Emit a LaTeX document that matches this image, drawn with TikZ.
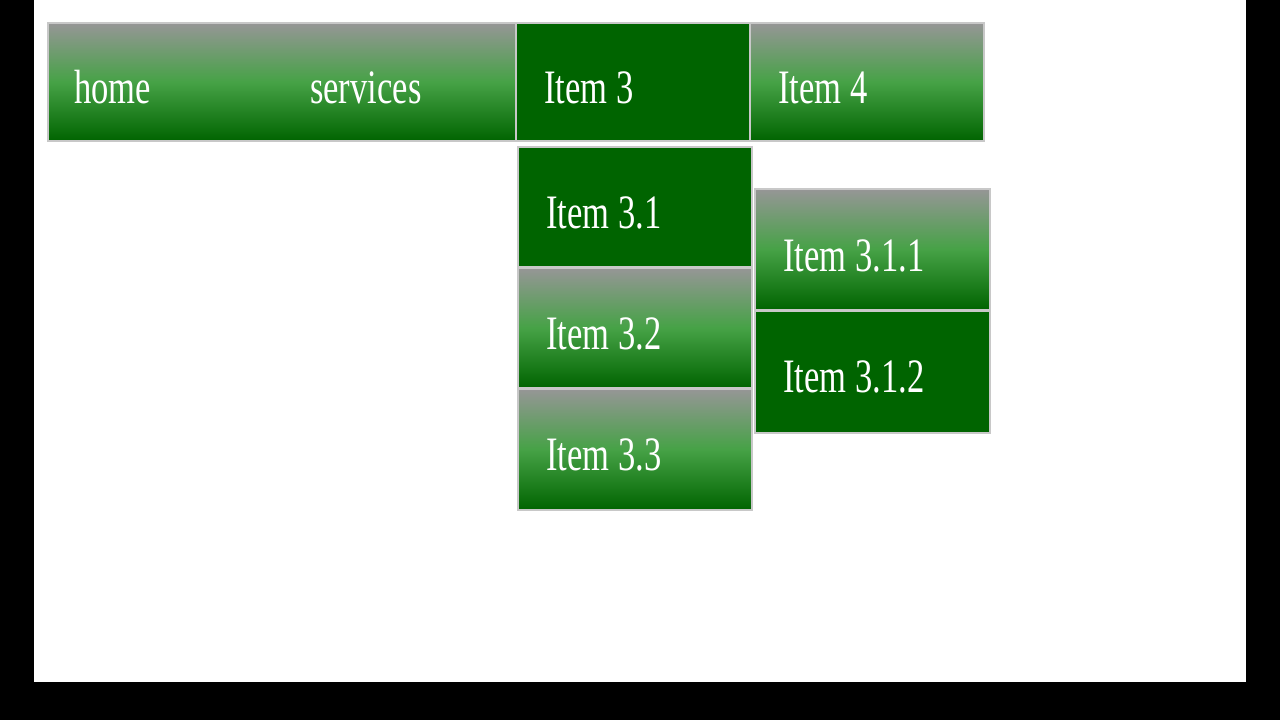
\documentclass[tikz,border=0pt]{standalone}
\usepackage{fontspec}
\setmainfont{Liberation Serif}
\definecolor{dg}{RGB}{0,100,0}
\definecolor{tg}{RGB}{150,150,150}
\definecolor{bd}{RGB}{200,200,200}
\tikzset{
 solidbox/.style={fill=dg,draw=bd,line width=1.5pt},
 gradbox/.style={top color=tg,bottom color=dg,middle color=black!20!green!45!gray,draw=bd,line width=1.5pt},
 lbl/.style={anchor=base west,text=white,inner sep=0pt,font=\fontsize{48}{50}\selectfont}
}
\newcommand{\cond}[1]{\scalebox{0.72}[1]{#1}}
\begin{document}
\begin{tikzpicture}[x=1pt,y=-1pt]
\fill[black] (0,0) rectangle (1280,720);
\fill[white] (34,0) rectangle (1246,682);
\useasboundingbox (0,0) rectangle (1280,720);
\path[gradbox] (48,23) rectangle (516,141);
\path[gradbox] (750,23) rectangle (984,141);
\path[solidbox] (516,23) rectangle (750,141);
\path[solidbox] (518,147) rectangle (752,267);
\path[gradbox] (518,268) rectangle (752,388);
\path[gradbox] (518,389) rectangle (752,510);
\path[gradbox] (755,189) rectangle (990,310);
\path[solidbox] (755,311) rectangle (990,433);
\node[lbl] (home) at (74,103) {\cond{home}};
\node[lbl] (serv) at (310,103) {\cond{services}};
\node[lbl] (i3) at (544,103) {\cond{Item 3}};
\node[lbl] (i4) at (778,103) {\cond{Item 4}};
\node[lbl] (i31) at (546,228) {\cond{Item 3.1}};
\node[lbl] (i32) at (546,349) {\cond{Item 3.2}};
\node[lbl] (i33) at (546,470) {\cond{Item 3.3}};
\node[lbl] (i311) at (783,271) {\cond{Item 3.1.1}};
\node[lbl] (i312) at (783,392) {\cond{Item 3.1.2}};
\end{tikzpicture}
\end{document}
